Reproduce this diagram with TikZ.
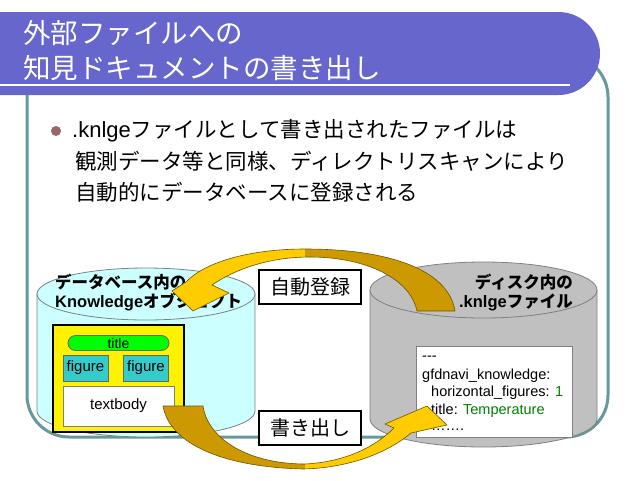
\documentclass[tikz,border=0pt]{standalone}
\usepackage{fontspec}
\newfontfamily\jp{Noto Sans CJK JP}
\newfontfamily\ar{Liberation Sans}
\definecolor{titlebar}{RGB}{102,102,204}
\definecolor{frameteal}{RGB}{102,153,153}
\definecolor{bulletc}{RGB}{153,102,102}
\definecolor{cylcyan}{RGB}{204,255,255}
\definecolor{cylgray}{RGB}{192,192,192}
\definecolor{goldlight}{RGB}{255,204,0}
\definecolor{golddark}{RGB}{204,153,0}
\definecolor{goldline}{RGB}{110,85,0}
\definecolor{figteal}{RGB}{51,204,204}
\definecolor{greencode}{RGB}{0,128,0}
\definecolor{pillgreen}{RGB}{0,255,0}
\def\TopArrow{(417,311) -- (455,311) .. controls (448,268) and (385,249) .. (305,249) .. controls (250,249) and (205,262) .. (186,282) -- (172,291) -- (193,311) -- (229,293) -- (212,285) .. controls (240,266) and (275,257) .. (310,257) .. controls (365,257) and (410,278) .. cycle}
\def\BotArrow{(163,406) -- (203,406) .. controls (208,440) and (250,464) .. (305,464) .. controls (345,462) and (375,447) .. (394,428) -- (385,424) -- (427,406) -- (447,425) -- (411,433) .. controls (385,455) and (345,468) .. (303,469) .. controls (225,467) and (170,445) .. cycle}
\begin{document}
\begin{tikzpicture}[x=1pt,y=-1pt,
  titletext/.style={anchor=west,inner sep=0pt,text=white,font=\jp\fontsize{27.5}{30}\selectfont},
  bullettext/.style={anchor=west,inner sep=0pt,font=\jp\fontsize{21.5}{24}\selectfont},
  cyllabel/.style={inner sep=0pt,font=\jp\bfseries\fontsize{16.5}{19}\selectfont},
  actionbox/.style={draw=black,line width=1.5pt,fill=white,minimum width=102pt,minimum height=34pt,inner sep=0pt,font=\jp\fontsize{20}{22}\selectfont},
  codeline/.style={anchor=west,inner sep=0pt,font=\ar\fontsize{14.5}{16}\selectfont},
  figbox/.style={draw=black!60,fill=figteal,line width=0.8pt,minimum width=45pt,minimum height=26pt,inner sep=0pt,font=\ar\fontsize{15}{17}\selectfont},
  arrowline/.style={draw=goldline,line width=0.6pt}
]
\useasboundingbox (0,0) rectangle (640,480);
\fill[white] (0,0) rectangle (640,480);
% frame
\draw[frameteal,line width=3pt,rounded corners=42pt] (27,55) rectangle (608,437);
% title bar
\fill[titlebar,rounded corners=41.5pt] (-60,12) rectangle (600,95);
\draw[white,line width=2pt] (0,85) -- (570,85);
\node[titletext] (t1) at (23,33) {外部ファイルへの};
\node[titletext] (t2) at (23,68) {知見ドキュメントの書き出し};
% bullet
\fill[bulletc] (56,131) circle[radius=5];
\node[bullettext] (b1) at (72,131) {{\ar\fontsize{22}{24}\selectfont .knlge}ファイルとして書き出されたファイルは};
\node[bullettext] (b2) at (75,161) {観測データ等と同様、ディレクトリスキャンにより};
\node[bullettext] (b3) at (75,192) {自動的にデータベースに登録される};
% left cylinder
\filldraw[fill=cylcyan,draw=black!50,line width=0.8pt] (37,294) -- (37,411) arc[start angle=180,end angle=0,x radius=109,y radius=26] -- (255,294) -- cycle;
\filldraw[fill=cylcyan,draw=black!50,line width=0.8pt] (146,294) ellipse[x radius=109,y radius=26];
\node[cyllabel,anchor=west] (dbl1) at (55,282) {データベース内の};
\node[cyllabel,anchor=west] (dbl2) at (55,302) {{\ar\bfseries Knowledge}オブジェクト};
% knowledge object
\draw[fill=yellow,draw=black,line width=2pt] (53,325) rectangle (184,432);
\node[draw=black!60,fill=pillgreen,rounded corners=7.5pt,minimum width=101pt,minimum height=15pt,inner sep=0pt,font=\ar\fontsize{14}{16}\selectfont,line width=0.8pt] (ttl) at (118.5,343) {title};
\node[figbox] (fig1) at (85.5,368) {figure};
\node[figbox] (fig2) at (146,368) {figure};
\node[draw=black!50,fill=white,minimum width=111pt,minimum height=40pt,inner sep=0pt,font=\ar\fontsize{15}{17}\selectfont,line width=0.8pt] (tb) at (118.5,406) {textbody};
% right cylinder
\filldraw[fill=cylgray,draw=black!50,line width=0.8pt] (370,290) -- (370,419) arc[start angle=180,end angle=0,x radius=113.5,y radius=28] -- (597,290) -- cycle;
\filldraw[fill=cylgray,draw=black!50,line width=0.8pt] (483.5,290) ellipse[x radius=113.5,y radius=28];
\node[cyllabel,anchor=east] (dk1) at (573,282) {ディスク内の};
\node[cyllabel,anchor=east] (dk2) at (573,302) {{\ar\bfseries .knlge}ファイル};
% code box
\draw[fill=white,draw=black!50,line width=0.8pt] (416,346) rectangle (572,437);
\node[codeline] (c1) at (422,358) {---};
\node[codeline] (c2) at (422,376) {gfdnavi\_knowledge:};
\node[codeline] (c3) at (431,393) {horizontal\_figures: \textcolor{greencode}{1}};
\node[codeline] (c4) at (431,411) {title: \textcolor{greencode}{Temperature}};
\node[codeline] (c5) at (431,430) {…….};
% action boxes
\node[actionbox] (reg) at (310,287) {自動登録};
\node[actionbox] (exp) at (310,428) {書き出し};
% top arrow
\begin{scope}
\clip (0,0) rectangle (305,480);
\fill[goldlight] \TopArrow;
\end{scope}
\begin{scope}
\clip (305,0) rectangle (640,480);
\fill[golddark] \TopArrow;
\end{scope}
\path[arrowline] \TopArrow;
% bottom arrow
\begin{scope}
\clip (0,0) rectangle (305,480);
\fill[golddark] \BotArrow;
\end{scope}
\begin{scope}
\clip (305,0) rectangle (640,480);
\fill[goldlight] \BotArrow;
\end{scope}
\path[arrowline] \BotArrow;
\end{tikzpicture}
\end{document}
